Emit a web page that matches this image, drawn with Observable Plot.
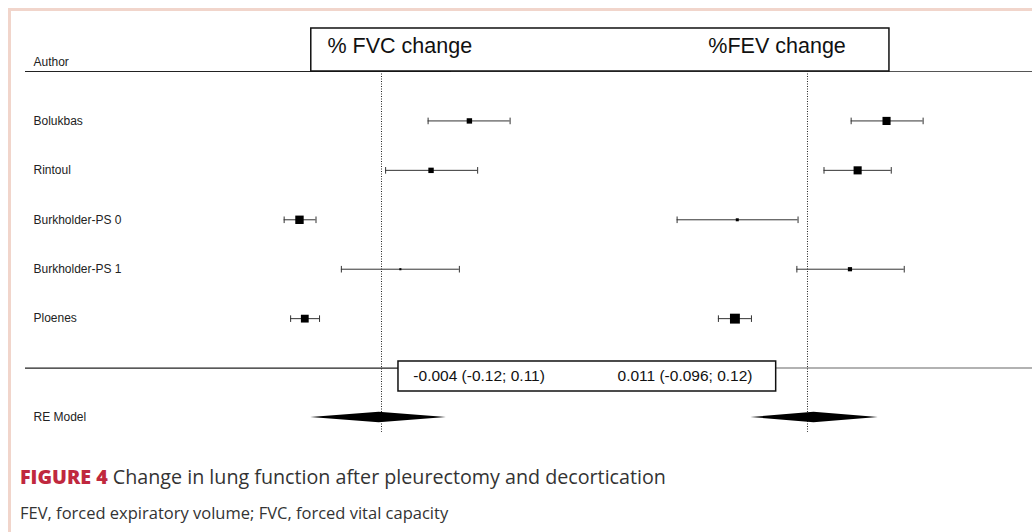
<!DOCTYPE html>
<html><head><meta charset="utf-8">
<script src="https://cdn.jsdelivr.net/npm/d3@7"></script>
<script src="https://cdn.jsdelivr.net/npm/@observablehq/plot@0.6"></script>
<style>
html,body{margin:0;padding:0;background:#fff;}
#wrap{position:relative;width:1032px;height:532px;overflow:hidden;background:#fff;}
#chart{position:absolute;left:0;top:0;}
#chart svg text{font-family:"Liberation Sans",Arial,sans-serif;}
#frame{position:absolute;left:8px;top:8px;right:-10px;bottom:-10px;border-top:3px solid #f1d5cb;border-left:3px solid #f1d5cb;pointer-events:none;}
#cap{position:absolute;left:20px;top:463px;font-family:"Open Sans",Lato,sans-serif;font-size:19.7px;color:#333;white-space:nowrap;}
#cap b{color:#c0283e;font-weight:800;}
#note{position:absolute;left:20px;top:501px;font-family:"Open Sans",Lato,sans-serif;font-size:16.5px;color:#333;white-space:nowrap;}
</style></head>
<body><div id="wrap"><div id="chart"></div><div id="frame"></div>
<div id="cap"><b>FIGURE 4</b> Change in lung function after pleurectomy and decortication</div>
<div id="note">FEV, forced expiratory volume; FVC, forced vital capacity</div></div>
<script>
// ---- data ----
const studies = ["Bolukbas", "Rintoul", "Burkholder-PS 0", "Burkholder-PS 1", "Ploenes"];
const studyRows = [5, 4, 3, 2, 1];
const fvcEst = [0.149, 0.084, -0.139, 0.032, -0.130];
const fvcLo = [0.079, 0.007, -0.165, -0.068, -0.154];
const fvcHi = [0.218, 0.163, -0.111, 0.132, -0.105];
const fvcWeight = [18, 18, 28, 7, 26];
const fevEst = [0.134, 0.085, -0.119, 0.072, -0.123];
const fevLo = [0.074, 0.028, -0.221, -0.018, -0.151];
const fevHi = [0.196, 0.142, -0.016, 0.164, -0.095];
const fevWeight = [27, 27, 10, 14, 33];
const outcomes = ["FVC", "FEV"];
const outcomeTitles = ["% FVC change", "%FEV change"];
const pooledEst = [-0.004, 0.011];
const pooledLo = [-0.12, -0.096];
const pooledHi = [0.11, 0.12];
const headerLabel = "Author";
const modelLabel = "RE Model";

// ---- layout (annotation positions, in each panel's units / rows) ----
const xDomain = [-0.6034, 0.3814];
const headerRow = 6, modelRow = -1, sepRow = 0;
const titleX = [-0.0915, -0.168];
const headerBox = {x1: -0.119, x2: 0.861, y1: 6, y2: 6.87};
const summaryBox = {x1: 0.0288, x2: 0.669, y1: -0.474, y2: 0.133};
const summaryTextX = [0.054, -0.322];
const fevRuleStart = -0.0525;
const diamondHalf = 0.105;

// ---- build tables ----
const rows = [];
studies.forEach((s, i) => {
  rows.push({panel: "FVC", study: s, row: studyRows[i], est: fvcEst[i], lo: fvcLo[i], hi: fvcHi[i], weight: fvcWeight[i]});
  rows.push({panel: "FEV", study: s, row: studyRows[i], est: fevEst[i], lo: fevLo[i], hi: fevHi[i], weight: fevWeight[i]});
});
const ends = rows.flatMap(d => [{...d, x: d.lo}, {...d, x: d.hi}]);
const pooled = outcomes.map((o, i) => ({panel: o, est: pooledEst[i], lo: pooledLo[i], hi: pooledHi[i],
  label: `${pooledEst[i]} (${pooledLo[i]}; ${pooledHi[i]})`, tx: summaryTextX[i]}));
const diamond = pooled.flatMap(p => [
  {panel: p.panel, x: p.lo, y1: modelRow, y2: modelRow},
  {panel: p.panel, x: p.est, y1: modelRow - diamondHalf, y2: modelRow + diamondHalf},
  {panel: p.panel, x: p.hi, y1: modelRow, y2: modelRow}
]);
const labels = [{label: headerLabel, row: 6.18}, ...studies.map((s, i) => ({label: s, row: studyRows[i]})), {label: modelLabel, row: modelRow}];
const titles = outcomes.map((o, i) => ({panel: o, text: outcomeTitles[i], x: titleX[i]}));

const vbar = {draw(ctx, size) { const h = Math.sqrt(size / Math.PI); ctx.moveTo(0, -h); ctx.lineTo(0, h); }};
const font = "Liberation Sans, Arial, sans-serif";

const W = 1032, ML = 25, step = 426;
const chart = Plot.plot({
  width: W, height: 440,
  marginLeft: ML, marginRight: 0, marginTop: 0, marginBottom: 0,
  style: {fontFamily: font, background: "transparent"},
  fx: {domain: outcomes, paddingInner: 2 - (W - ML) / step, paddingOuter: 0, round: false, axis: null, label: null},
  x: {domain: xDomain, axis: null},
  y: {domain: [6, -1], range: [71, 417], axis: null},
  r: {type: "linear", domain: [0, 33], range: [0, 5.59]},
  marks: [
    Plot.ruleY(["FVC"], {y: headerRow, fx: d => d, stroke: "#222", strokeWidth: 1.2}),
    Plot.ruleY(["FVC"], {y: sepRow, fx: d => d, stroke: "#222", strokeWidth: 1.2}),
    Plot.ruleY(["FEV"], {y: headerRow, fx: d => d, stroke: "#555", strokeWidth: 1.2}),
    Plot.ruleY(["FEV"], {y: sepRow, x1: fevRuleStart, x2: xDomain[1], fx: d => d, stroke: "#999", strokeWidth: 1.5}),
    Plot.ruleX(outcomes, {x: 0, y1: headerRow, y2: -1.3, fx: d => d, stroke: "#222", strokeDasharray: "1,1.5"}),
    Plot.ruleY(rows, {y: "row", x1: "lo", x2: "hi", fx: "panel", stroke: "#333", strokeWidth: 1}),
    Plot.dot(ends, {x: "x", y: "row", fx: "panel", symbol: vbar, r: 3.3, stroke: "#333", fill: "none", strokeWidth: 1}),
    Plot.dot(rows, {x: "est", y: "row", r: "weight", fx: "panel", symbol: "square", fill: "#000", stroke: "none"}),
    Plot.areaY(diamond, {x: "x", y1: "y1", y2: "y2", z: "panel", fx: "panel", fill: "#000", curve: "linear"}),
    Plot.rect(["FVC"], {...headerBox, fx: d => d, fill: "white", stroke: "#111", strokeWidth: 1.5}),
    Plot.text(titles, {x: "x", y: 6.51, text: "text", fx: "panel", textAnchor: "start", fontSize: 21.5, fontFamily: font, fill: "#111"}),
    Plot.rect(["FVC"], {...summaryBox, fx: d => d, fill: "white", stroke: "#111", strokeWidth: 1.5}),
    Plot.text(pooled, {x: "tx", y: -0.17, text: "label", fx: "panel", textAnchor: "start", fontSize: 15.5, fontFamily: font, fill: "#111"}),
    Plot.text(labels, {y: "row", text: "label", fx: () => "FVC", frameAnchor: "left", dx: 8, textAnchor: "start", fontSize: 12, fontFamily: font, fill: "#222"})
  ]
});
document.getElementById("chart").appendChild(chart);
</script>
</body></html>
